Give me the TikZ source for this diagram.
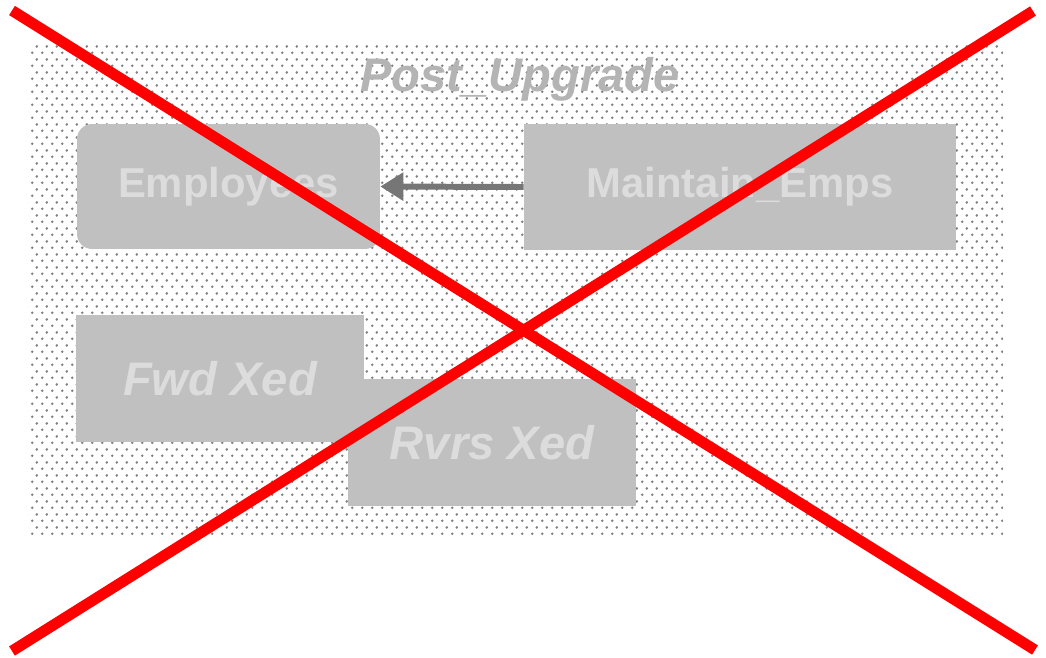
\documentclass[tikz,border=0pt]{standalone}
\usepackage{fontspec}
\setmainfont{Liberation Sans}
\usepackage{tikz}
\usetikzlibrary{arrows.meta,patterns}
\definecolor{boxgray}{HTML}{C0C0C0}
\definecolor{txtgray}{HTML}{DCDCDC}
\definecolor{ttlgray}{HTML}{B4B4B4}
\definecolor{arrgray}{HTML}{767676}
\definecolor{dotgray}{HTML}{808080}
\pgfdeclarepatternformonly{stipple}{\pgfqpoint{0pt}{0pt}}{\pgfqpoint{5.7pt}{7.6pt}}{\pgfqpoint{5.7pt}{7.6pt}}{
  \pgfpathcircle{\pgfqpoint{1.4pt}{1.9pt}}{0.85pt}
  \pgfpathcircle{\pgfqpoint{4.25pt}{5.7pt}}{0.85pt}
  \pgfusepath{fill}
}

\begin{document}
\begin{tikzpicture}[x=0.02cm, y=-0.02cm,
    tbl/.style={fill=boxgray, draw=none, text=txtgray, font=\bfseries\fontsize{23.8}{28}\selectfont, inner sep=0pt},
    xed/.style={tbl, font=\bfseries\itshape\fontsize{26.8}{30}\selectfont},
    cross/.style={draw=red, line width=6.2pt}]
        \useasboundingbox (0,0) rectangle (1046,657);
        % stippled frame
        \fill[white] (28,43) rectangle (1003,535);
        \fill[pattern=stipple, pattern color=dotgray] (28,43) rectangle (1003,535);
        \node[text=ttlgray, font=\bfseries\itshape\fontsize{26.8}{30}\selectfont] (ttl) at (520,79) {Post\_Upgrade};
        % tables
        \node[tbl, rounded corners=0.3cm, minimum width=6.06cm, minimum height=2.5cm] (emp) at (228.5,186.5) {Employees};
        \node[tbl, minimum width=8.64cm, minimum height=2.52cm] (maint) at (740,187) {Maintain\_Emps};
        \node[xed, minimum width=5.76cm, minimum height=2.54cm] (fwd) at (220,378.5) {Fwd Xed};
        \node[xed, minimum width=5.76cm, minimum height=2.54cm] (rvrs) at (492,442.5) {Rvrs Xed};
        \draw[arrgray, line width=3.4pt, -{Triangle[length=0.46cm, width=0.54cm]}] (maint.west) -- (emp.east);
        % red cross
        \coordinate (tl) at (12,10.5);
        \coordinate (br) at (1035,650);
        \coordinate (tr) at (1033,11);
        \coordinate (bl) at (12,651);
        \draw[cross] (tl) -- (br);
        \draw[cross] (tr) -- (bl);
\end{tikzpicture}
\end{document}
